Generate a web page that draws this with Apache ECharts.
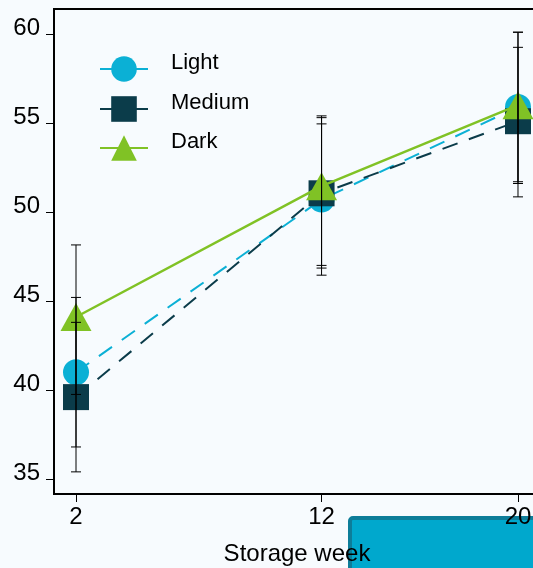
<!DOCTYPE html>
<html>
<head>
<meta charset="utf-8">
<script src="https://cdn.jsdelivr.net/npm/echarts@6/dist/echarts.min.js"></script>
<style>
  html, body { margin: 0; padding: 0; background: #f7fbfe; }
  #chart { width: 533px; height: 568px; }
</style>
</head>
<body>
<div id="chart"></div>
<script>
// Storage week on the x axis, colour score on the y axis
const weeks = [2, 12, 20];
const weekTicks = [2, 12, 20];
const scoreTicks = [35, 40, 45, 50, 55, 60];

const lightMean = [41.0, 50.7, 55.9];
const lightLow = [36.8, 46.45, 51.7];
const lightHigh = [45.2, 54.95, 60.1];

const mediumMean = [39.6, 51.05, 55.1];
const mediumLow = [35.4, 46.85, 50.85];
const mediumHigh = [43.8, 55.3, 59.25];

const darkMean = [44.1, 51.45, 56.0];
const darkLow = [39.75, 47.0, 51.6];
const darkHigh = [48.15, 55.4, 60.1];

const seriesNames = ['Light', 'Medium', 'Dark'];

const FONT = "'Liberation Sans', Arial, sans-serif";
const COLORS = { Light: '#0bb0d5', Medium: '#0b3c4a', Dark: '#80c225' };

function pairs(means) {
  return weeks.map((w, i) => [w, means[i]]);
}

function errorData(lows, highs) {
  return weeks.map((w, i) => [w, lows[i], highs[i]]);
}

// Whiskers: vertical line with short caps at both ends
function renderWhisker(params, api) {
  const x = api.value(0);
  const lo = api.coord([x, api.value(1)]);
  const hi = api.coord([x, api.value(2)]);
  const half = 5;
  const style = { stroke: '#000', lineWidth: 1 };
  return {
    type: 'group',
    children: [
      { type: 'line', shape: { x1: lo[0], y1: lo[1], x2: hi[0], y2: hi[1] }, style },
      { type: 'line', shape: { x1: lo[0] - half, y1: lo[1], x2: lo[0] + half, y2: lo[1] }, style },
      { type: 'line', shape: { x1: hi[0] - half, y1: hi[1], x2: hi[0] + half, y2: hi[1] }, style }
    ]
  };
}

function whiskerSeries(name, lows, highs) {
  return {
    type: 'custom',
    name: name + ' range',
    renderItem: renderWhisker,
    data: errorData(lows, highs),
    encode: { x: 0, y: [1, 2] },
    z: 5,
    silent: true
  };
}

// One legend block per series so each row sits at its own height
function legendRow(name, top) {
  return {
    data: [name],
    left: 99, top: top,
    padding: 0,
    itemWidth: 48, itemHeight: 32,
    lineStyle: { type: 'solid' },
    formatter: n => n + '\n ',
    textStyle: { fontFamily: FONT, fontSize: 22, lineHeight: 12, color: '#000', padding: [0, 0, 0, 18] }
  };
}

const chart = echarts.init(document.getElementById('chart'), null, { renderer: 'canvas' });

chart.setOption({
  backgroundColor: '#f7fbfe',
  animation: false,
  grid: {
    left: 54, top: 9, right: -7, bottom: 74,
    outerBoundsMode: 'none',
    show: true, borderColor: '#000', borderWidth: 2, backgroundColor: 'transparent'
  },
  legend: [
    legendRow('Light', 52),
    legendRow('Medium', 92),
    legendRow('Dark', 131)
  ],
  xAxis: {
    type: 'value',
    min: 1.104, max: 20.896,
    name: 'Storage week',
    nameLocation: 'middle',
    nameGap: 48,
    nameTextStyle: { fontFamily: FONT, fontSize: 24, color: '#000' },
    axisLine: { show: true, lineStyle: { color: '#000', width: 2 } },
    axisTick: { show: true, customValues: weekTicks, length: 8, lineStyle: { color: '#000', width: 1 } },
    axisLabel: { customValues: weekTicks, fontFamily: FONT, fontSize: 24, color: '#000', margin: 11 },
    splitLine: { show: false }
  },
  yAxis: {
    type: 'value',
    min: 34.157, max: 61.404,
    axisLine: { show: true, lineStyle: { color: '#000', width: 2 } },
    axisTick: { show: true, customValues: scoreTicks, length: 8, lineStyle: { color: '#000', width: 1 } },
    axisLabel: {
      customValues: scoreTicks, fontFamily: FONT, fontSize: 24, color: '#000',
      margin: 14, verticalAlign: 'bottom', lineHeight: 12
    },
    splitLine: { show: false }
  },
  graphic: [
    {
      type: 'rect',
      z: -10,
      shape: { x: 350, y: 518, width: 200, height: 80, r: 3 },
      style: { fill: '#00a8cd', stroke: '#0d7d99', lineWidth: 4 }
    }
  ],
  series: [
    {
      name: 'Light', type: 'line', data: pairs(lightMean),
      symbol: 'circle', symbolSize: 26,
      itemStyle: { color: COLORS.Light },
      lineStyle: { color: COLORS.Light, width: 2, type: [16, 12] },
      z: 2
    },
    {
      name: 'Medium', type: 'line', data: pairs(mediumMean),
      symbol: 'rect', symbolSize: 26,
      itemStyle: { color: COLORS.Medium },
      lineStyle: { color: COLORS.Medium, width: 2, type: [16, 12] },
      z: 3
    },
    {
      name: 'Dark', type: 'line', data: pairs(darkMean),
      symbol: 'triangle', symbolSize: [31, 28],
      itemStyle: { color: COLORS.Dark },
      lineStyle: { color: COLORS.Dark, width: 2.5, type: 'solid' },
      z: 4
    },
    whiskerSeries('Light', lightLow, lightHigh),
    whiskerSeries('Medium', mediumLow, mediumHigh),
    whiskerSeries('Dark', darkLow, darkHigh)
  ]
});
</script>
</body>
</html>
